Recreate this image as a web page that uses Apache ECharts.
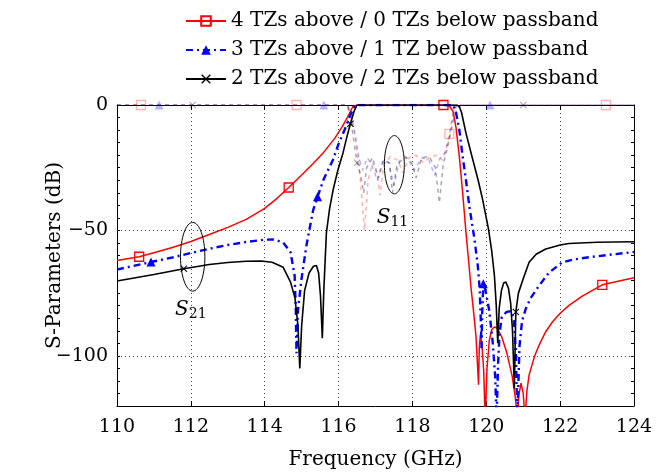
<!DOCTYPE html>
<html>
<head>
<meta charset="utf-8">
<script src="https://cdn.jsdelivr.net/npm/echarts@6/dist/echarts.min.js"></script>
<style>
  html, body { margin: 0; padding: 0; background: #fff; }
  #chart { width: 666px; height: 475px; }
</style>
</head>
<body>
<div id="chart"></div>
<script>
// Filter responses: transmission (S21) and reflection (S11), frequency in GHz, level in dB
const legendNames = [
  '4 TZs above / 0 TZs below passband',
  '3 TZs above / 1 TZ below passband',
  '2 TZs above / 2 TZs below passband'
];

const xTicks = [110, 112, 114, 116, 118, 120, 122, 124];
const yTicks = [0, -50, -100];

// S21, 4 transmission zeros above the passband
const s21Red = [
  [110.0,-62.0],[110.6,-60.5],[111.0,-58.9],[111.5,-56.8],[112.0,-54.4],[112.5,-51.6],
  [113.0,-48.8],[113.5,-45.6],[114.0,-41.2],[114.35,-37.0],[114.65,-32.9],[115.0,-27.9],
  [115.3,-23.5],[115.6,-18.8],[115.9,-13.2],[116.1,-8.6],[116.25,-4.6],[116.38,-0.8],
  [116.5,0],[117.5,0],[118.84,0],[119.0,-0.3],[119.1,-2.5],[119.18,-9],[119.27,-20.5],
  [119.36,-35],[119.45,-50.8],[119.52,-62],[119.59,-73.3],[119.66,-83],[119.72,-92],
  [119.76,-103],[119.79,-111.5],[119.81,-97],[119.84,-91.5],[119.88,-95],[119.93,-106],
  [119.97,-125],[120.02,-105],[120.08,-94],[120.15,-89.5],[120.22,-88.5],[120.3,-89],
  [120.42,-92.5],[120.56,-99],[120.7,-108],[120.79,-117],[120.84,-125],[120.88,-116],
  [120.94,-110.9],[121.0,-115],[121.05,-125],[121.1,-114],[121.16,-107.6],[121.3,-100.5],
  [121.43,-95.7],[121.6,-90.6],[121.79,-86.5],[122.0,-83.0],[122.24,-79.9],[122.6,-76.2],
  [123.14,-71.7],[123.6,-70.2],[124.0,-68.9]
];
const s21RedMarks = [110.6, 114.65, 118.84, 123.14];

// S21, 3 zeros above / 1 below
const s21Blue = [
  [110.0,-65.6],[110.92,-62.6],[111.5,-60.8],[112.0,-59.0],[112.5,-57.3],[113.0,-55.8],
  [113.5,-54.6],[114.0,-53.7],[114.25,-53.6],[114.5,-54.8],[114.7,-58.7],[114.81,-68],
  [114.84,-80],[114.86,-99],[114.9,-82],[114.99,-70],[115.13,-56],[115.31,-42],
  [115.43,-36.6],[115.6,-29.5],[115.85,-21.8],[116.0,-15.5],[116.2,-8.6],[116.3,-4.6],
  [116.43,-0.6],[116.55,0],[117.5,0],[119.1,0],[119.18,-3],[119.27,-10],[119.36,-20.5],
  [119.45,-30],[119.54,-40.3],[119.68,-53.5],[119.77,-64],[119.82,-73],[119.85,-85],
  [119.87,-97],[119.89,-83],[119.92,-71.3],[119.98,-74],[120.08,-82],[120.17,-94],
  [120.24,-108],[120.28,-125],[120.32,-103],[120.36,-91],[120.42,-84.5],[120.55,-82.5],
  [120.68,-82.2],[120.75,-86],[120.8,-98],[120.84,-125],[120.9,-96],[120.97,-86],
  [121.07,-81.2],[121.2,-77],[121.43,-72],[121.7,-66.8],[122.06,-62.7],[122.4,-61.5],
  [122.78,-60.7],[123.4,-59.6],[124.0,-58.6]
];
const s21BlueMarks = [110.92, 115.43, 119.92];

// S21, 2 zeros above / 2 below
const s21Black = [
  [110.0,-70.2],[111.0,-67.6],[111.81,-65.3],[112.5,-63.6],[113.0,-62.8],[113.5,-62.3],
  [113.9,-62.2],[114.2,-62.7],[114.5,-64.7],[114.7,-70.6],[114.82,-77],[114.9,-88],
  [114.95,-105],[115.0,-88],[115.08,-74],[115.2,-67],[115.32,-64.3],[115.4,-64],
  [115.46,-67],[115.51,-76],[115.56,-93],[115.6,-74],[115.67,-51],[115.76,-41],
  [115.85,-34],[115.98,-26],[116.12,-19.1],[116.22,-13],[116.32,-7.5],[116.42,-2.5],
  [116.5,0],[117.5,0],[119.2,0],[119.27,-0.6],[119.33,-3],[119.45,-11.2],[119.63,-21.5],
  [119.78,-30],[119.9,-37.6],[120.06,-49.5],[120.15,-58.5],[120.22,-68],[120.27,-80],
  [120.31,-95],[120.35,-81],[120.41,-74],[120.47,-71],[120.53,-70.6],[120.6,-73],
  [120.66,-79],[120.71,-90],[120.76,-113],[120.8,-82.5],[120.87,-75],[121.0,-69.3],
  [121.16,-62.7],[121.35,-59.5],[121.61,-57.4],[122.0,-55.8],[122.24,-55.2],[123.0,-54.7],
  [124.0,-54.5]
];
const s21BlackMarks = [111.81, 116.32, 120.8];

// S11 curves (drawn faded)
const s11Red = [
  [110.0,0],[110.65,0],[114.86,0],[116.2,0],[116.3,-3],[116.45,-12],[116.58,-28],
  [116.7,-50],[116.8,-30],[116.92,-23],[117.05,-28],[117.12,-36],[117.22,-24],
  [117.4,-20.5],[117.6,-22],[117.75,-27],[117.9,-21],[118.1,-20],[118.3,-23],
  [118.45,-21],[118.65,-20],[118.82,-22],[118.92,-17],[119.0,-11.5],[119.1,-3],
  [119.2,0],[123.24,0],[124.0,0]
];
const s11RedMarks = [110.65, 114.86, 119.0, 123.24];

const s11Blue = [
  [110.0,0],[111.14,0],[115.6,0],[116.25,0],[116.35,-4],[116.45,-12],[116.55,-21],
  [116.65,-26],[116.78,-21],[116.9,-24],[117.05,-30],[117.2,-22],[117.35,-23],
  [117.5,-32],[117.65,-22],[117.85,-21],[118.05,-26],[118.25,-21],[118.45,-22],
  [118.6,-28],[118.75,-21],[118.88,-19],[119.0,-13],[119.1,-4],[119.2,0],[120.1,0],
  [124.0,0]
];
const s11BlueMarks = [111.14, 115.6, 120.1];

const s11Black = [
  [110.0,0],[112.05,0],[116.25,0],[116.35,-8],[116.5,-23],[116.6,-28],[116.68,-35],
  [116.76,-25],[116.92,-21],[117.08,-29],[117.22,-22],[117.38,-23],[117.46,-35],
  [117.58,-24],[117.8,-20.5],[117.98,-23],[118.1,-29],[118.25,-21],[118.45,-20.5],
  [118.62,-25],[118.73,-39],[118.83,-24],[118.95,-17],[119.08,-8],[119.2,-1.5],
  [119.3,0],[121.0,0],[124.0,0]
];
const s11BlackMarks = [112.05, 116.5, 121.0];

// Annotations: ellipse centre / half-axes in data units, label anchor
const s21Note = { cx: 112.05, cy: -60.5, rx: 0.33, ry: 13.7, lx: 112.0, ly: -81.5, sub: '21' };
const s11Note = { cx: 117.51, cy: -23.8, rx: 0.27, ry: 11.6, lx: 117.46, ly: -44.8, sub: '11' };

const FONT = 'DejaVu Serif';
const CROSS = 'path://M0,1L1,0L5,4L9,0L10,1L6,5L10,9L9,10L5,6L1,10L0,9L4,5Z';
const GRID_LINE = { color: '#444', width: 1, type: [1, 3] };

function curve(name, data, marks, o) {
  const idx = new Set(marks.map(m => data.findIndex(p => p[0] === m)));
  return {
    type: 'line',
    name: name,
    data: data,
    xAxisIndex: 0, yAxisIndex: 0,
    symbol: o.symbol,
    symbolSize: (v, p) => (idx.has(p.dataIndex) ? o.size : 0),
    showAllSymbol: true,
    showSymbol: true,
    clip: true,
    z: o.z,
    silent: true,
    animation: false,
    lineStyle: { color: o.color, width: o.width, type: o.dash },
    itemStyle: o.item,
    emphasis: { disabled: true }
  };
}

const chart = echarts.init(document.getElementById('chart'), null, { renderer: 'canvas' });

const minusFmt = v => (v < 0 ? '\u2212' + Math.abs(v) : String(v));

const series = [
  curve('s11-red', s11Red, s11RedMarks, {
    symbol: 'rect', size: 9, z: 2, width: 1.5, dash: [4, 4],
    color: 'rgba(255,0,0,0.3)',
    item: { color: 'rgba(0,0,0,0)', borderColor: 'rgba(255,0,0,0.3)', borderWidth: 1.3 }
  }),
  curve('s11-blue', s11Blue, s11BlueMarks, {
    symbol: 'triangle', size: 9, z: 2, width: 1.5, dash: [4, 4],
    color: 'rgba(0,0,255,0.3)',
    item: { color: 'rgba(0,0,255,0.3)' }
  }),
  curve('s11-black', s11Black, s11BlackMarks, {
    symbol: CROSS, size: 7, z: 2, width: 1.5, dash: [4, 4],
    color: 'rgba(0,0,0,0.35)',
    item: { color: 'rgba(0,0,0,0.35)' }
  }),
  curve(legendNames[0], s21Red, s21RedMarks, {
    symbol: 'rect', size: 9, z: 3, width: 1.5, dash: 'solid',
    color: '#ff0000',
    item: { color: 'rgba(0,0,0,0)', borderColor: '#ff0000', borderWidth: 1.3 }
  }),
  curve(legendNames[1], s21Blue, s21BlueMarks, {
    symbol: 'triangle', size: 9, z: 4, width: 2.4, dash: [7, 4, 2, 4],
    color: '#0000ff',
    item: { color: '#0000ff' }
  }),
  curve(legendNames[2], s21Black, s21BlackMarks, {
    symbol: CROSS, size: 7, z: 5, width: 1.6, dash: 'solid',
    color: '#000000',
    item: { color: '#000000' }
  })
];

// Horizontal dotted grid at the labelled dB levels inside the plot
series[0].markLine = {
  silent: true,
  symbol: 'none',
  animation: false,
  label: { show: false },
  lineStyle: GRID_LINE,
  emphasis: { disabled: true },
  data: yTicks.filter(v => v < 0 && v > -120).map(v => ({ yAxis: v }))
};

const tickText = { fontFamily: FONT, fontSize: 19, color: '#000' };

chart.setOption({
  animation: false,
  backgroundColor: '#fff',
  grid: { left: 117, right: 32, top: 105, bottom: 67, containLabel: false },
  legend: {
    data: legendNames,
    orient: 'vertical',
    left: 185,
    top: 10,
    padding: 0,
    itemWidth: 40,
    itemHeight: 12,
    itemGap: 7,
    selectedMode: false,
    textStyle: { fontFamily: FONT, fontSize: 20, color: '#000', lineHeight: 22 }
  },
  xAxis: [
    {
      type: 'value', min: xTicks[0], max: xTicks[xTicks.length - 1], interval: 2,
      position: 'bottom',
      name: 'Frequency (GHz)', nameLocation: 'middle', nameGap: 44,
      nameMoveOverlap: false,
      nameTextStyle: { fontFamily: FONT, fontSize: 20, color: '#000' },
      axisLine: { show: true, onZero: false, lineStyle: { color: '#000', width: 1 } },
      axisTick: { show: true, inside: true, length: 5, lineStyle: { color: '#000' } },
      axisLabel: Object.assign({ margin: 12, formatter: v => (xTicks.includes(v) ? String(v) : '') }, tickText),
      splitLine: { show: true, lineStyle: GRID_LINE }
    },
    {
      type: 'value', min: xTicks[0], max: xTicks[xTicks.length - 1], interval: 2,
      position: 'top',
      axisLine: { show: true, onZero: false, lineStyle: { color: '#000', width: 1 } },
      axisTick: { show: true, inside: true, length: 5, lineStyle: { color: '#000' } },
      axisLabel: { show: false },
      splitLine: { show: false }
    }
  ],
  yAxis: [
    {
      type: 'value', min: -120, max: 0, interval: 10,
      position: 'left',
      name: 'S-Parameters (dB)', nameLocation: 'middle', nameGap: 52,
      nameMoveOverlap: false,
      nameTextStyle: { fontFamily: FONT, fontSize: 20, color: '#000' },
      axisLine: { show: true, onZero: false, lineStyle: { color: '#000', width: 1 } },
      axisTick: { show: true, inside: true, length: 3, lineStyle: { color: '#000' } },
      minorTick: { show: true, splitNumber: 2, length: 3, lineStyle: { color: '#000' } },
      axisLabel: Object.assign({ margin: 9, formatter: v => (yTicks.includes(v) ? minusFmt(v) : '') }, tickText),
      splitLine: { show: false }
    },
    {
      type: 'value', min: -120, max: 0, interval: 10,
      position: 'right',
      axisLine: { show: true, onZero: false, lineStyle: { color: '#000', width: 1 } },
      axisTick: { show: true, inside: true, length: 3, lineStyle: { color: '#000' } },
      minorTick: { show: true, splitNumber: 2, length: 3, lineStyle: { color: '#000' } },
      axisLabel: { show: false },
      splitLine: { show: false }
    }
  ],
  series: series
});

// Ellipse annotations with S-parameter labels, placed in data coordinates
function noteGraphics(n) {
  const c = chart.convertToPixel({ gridIndex: 0 }, [n.cx, n.cy]);
  const e = chart.convertToPixel({ gridIndex: 0 }, [n.cx + n.rx, n.cy - n.ry]);
  const l = chart.convertToPixel({ gridIndex: 0 }, [n.lx, n.ly]);
  return [
    {
      type: 'ellipse', silent: true, z: 10,
      shape: { cx: c[0], cy: c[1], rx: Math.abs(e[0] - c[0]), ry: Math.abs(e[1] - c[1]) },
      style: { fill: null, stroke: '#000', lineWidth: 1 }
    },
    {
      type: 'text', silent: true, z: 10,
      x: l[0], y: l[1],
      style: {
        text: '{s|S}{n|' + n.sub + '}',
        align: 'center', verticalAlign: 'middle',
        rich: {
          s: { fontFamily: FONT, fontStyle: 'italic', fontSize: 20, lineHeight: 24, fill: '#000' },
          n: { fontFamily: FONT, fontSize: 14, lineHeight: 24, padding: [9, 0, 0, 0], fill: '#000' }
        }
      }
    }
  ];
}

chart.setOption({ graphic: [].concat(noteGraphics(s21Note), noteGraphics(s11Note)) });
</script>
</body>
</html>
